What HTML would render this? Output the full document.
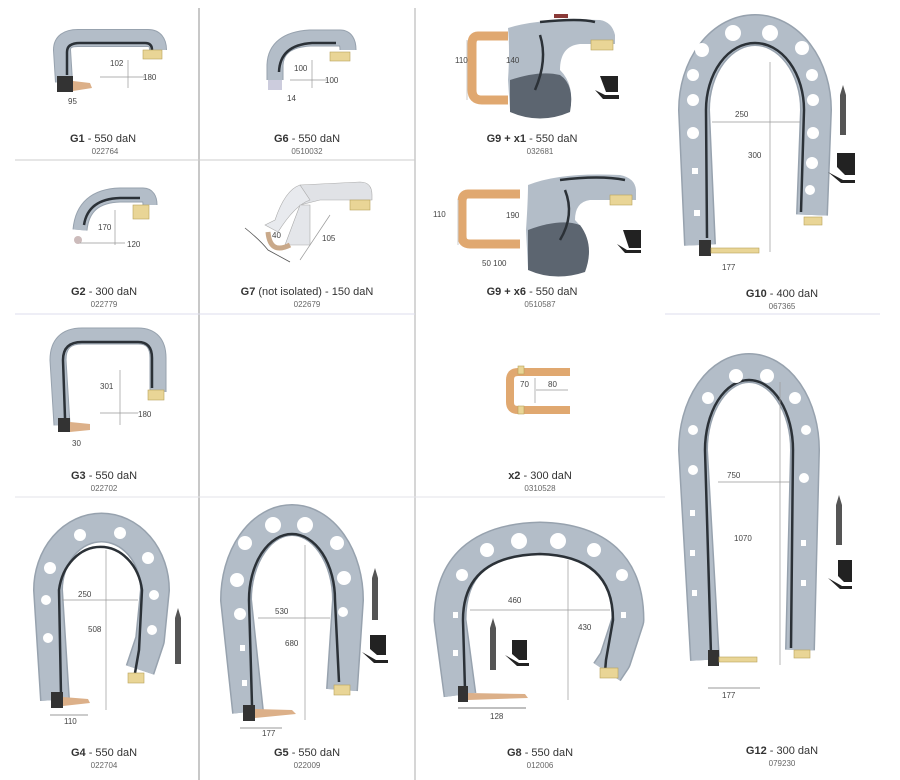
<!DOCTYPE html>
<html><head><meta charset="utf-8"><style>
html,body{margin:0;padding:0;background:#fff;width:900px;height:780px;overflow:hidden}
svg{display:block}
text{font-family:"Liberation Sans",sans-serif;fill:#333}
.t{font-size:11px;text-anchor:middle}
.c{font-size:8px;text-anchor:middle;fill:#666}
.d{font-size:8px;fill:#444}
.arm{fill:none;stroke:#b3bdc8;stroke-linejoin:round}
.edge{fill:none;stroke:#97a2ae;stroke-linejoin:round}
.cab{fill:none;stroke:#2b3137;stroke-width:2.5}
.dim{stroke:#999;stroke-width:0.7}
.h{fill:#fff}
.br{fill:#e9d596;stroke:#b9a25a;stroke-width:.6}
.cu{fill:#dcb089}
</style></head><body>
<svg width="900" height="780" viewBox="0 0 900 780">
<!-- grid -->
<line x1="199" y1="8" x2="199" y2="780" stroke="#777" stroke-width="0.8"/>
<line x1="415" y1="8" x2="415" y2="780" stroke="#999" stroke-width="0.8"/>
<line x1="15" y1="160" x2="415" y2="160" stroke="#ccc"/>
<line x1="15" y1="314" x2="415" y2="314" stroke="#dde"/>
<line x1="665" y1="314" x2="880" y2="314" stroke="#dde"/>
<line x1="15" y1="497" x2="665" y2="497" stroke="#e3e3e8"/>

<!-- G1 -->
<path class="edge" stroke-width="18" d="M64,82 L62,50 Q62,38 78,38 L148,38 Q158,38 158,50"/>
<path class="arm" stroke-width="16" d="M64,82 L62,50 Q62,38 78,38 L148,38 Q158,38 158,50"/>
<path class="cab" d="M67,75 L67,52 Q67,43 80,43 L145,43 Q152,43 152,50"/>
<rect x="57" y="76" width="16" height="16" fill="#333"/>
<polygon class="cu" points="73,81 90,83 92,88 73,91"/>
<rect class="br" x="143" y="50" width="19" height="9"/>
<line class="dim" x1="128" y1="60" x2="128" y2="88"/><line class="dim" x1="100" y1="77" x2="145" y2="77"/>
<text class="d" x="110" y="66">102</text><text class="d" x="143" y="80">180</text><text class="d" x="68" y="104">95</text>
<text class="t" x="103" y="142"><tspan font-weight="bold">G1</tspan> - 550 daN</text><text class="c" x="105" y="154">022764</text>

<!-- G6 -->
<path class="edge" stroke-width="17" d="M275,80 L275,65 Q276,40 310,38 L340,38 Q348,38 348,50"/>
<path class="arm" stroke-width="15" d="M275,80 L275,65 Q276,40 310,38 L340,38 Q348,38 348,50"/>
<path class="cab" d="M279,72 Q280,45 312,43 L336,43"/>
<rect x="268" y="80" width="14" height="10" fill="#ccd"/>
<rect class="br" x="330" y="52" width="20" height="9"/>
<line class="dim" x1="312" y1="60" x2="312" y2="88"/><line class="dim" x1="290" y1="80" x2="327" y2="80"/>
<text class="d" x="294" y="71">100</text><text class="d" x="325" y="83">100</text><text class="d" x="287" y="101">14</text>
<text class="t" x="307" y="142"><tspan font-weight="bold">G6</tspan> - 550 daN</text><text class="c" x="307" y="154">0510032</text>

<!-- G9 + x1 -->
<path d="M508,36 L478,36 Q472,36 472,44 L472,90 Q472,100 482,100 L508,100" fill="none" stroke="#e0a870" stroke-width="9"/>
<path d="M508,28 Q540,18 600,20 Q612,22 615,35 L615,44 L580,44 Q560,46 560,70 Q575,85 570,110 Q540,122 510,110 L508,80 Q510,50 508,28Z" fill="#b3bdc8"/>
<path d="M510,80 Q540,70 560,75 Q575,85 570,112 Q540,125 510,112Z" fill="#5c6570"/>
<path class="cab" d="M540,22 Q580,18 595,22 M540,35 Q548,60 535,90"/>
<rect x="554" y="14" width="14" height="4" fill="#8a3a38"/>
<rect class="br" x="591" y="40" width="22" height="10"/>
<path d="M600,76 h18 v16 h-12 z M595,90 l10,5 h14 v4 h-16z" fill="#222"/>
<line x1="467" y1="40" x2="467" y2="100" stroke="#ccc"/>
<text class="d" x="455" y="63" fill="#7a7">110</text><text class="d" x="506" y="63">140</text>
<text class="t" x="532" y="142"><tspan font-weight="bold">G9 + x1</tspan> - 550 daN</text><text class="c" x="540" y="154">032681</text>

<!-- G10 -->
<path class="edge" stroke-width="32" d="M700,245 L694,110 A61,80 0 0 1 816,110 L812,215"/>
<path class="arm" stroke-width="29" d="M700,245 L694,110 A61,80 0 0 1 816,110 L812,215"/>
<path class="cab" d="M707,238 L706,110 A49,67 0 0 1 804,110 L801,212"/>
<g class="h"><circle cx="702" cy="50" r="7"/><circle cx="733" cy="33" r="8"/><circle cx="770" cy="33" r="8"/><circle cx="802" cy="48" r="7"/><circle cx="693" cy="75" r="6"/><circle cx="693" cy="100" r="6"/><circle cx="693" cy="133" r="6"/><circle cx="812" cy="75" r="6"/><circle cx="813" cy="100" r="6"/><circle cx="813" cy="133" r="6"/><circle cx="812" cy="163" r="6"/><circle cx="810" cy="190" r="5"/><rect x="692" y="168" width="6" height="6"/><rect x="694" y="210" width="6" height="6"/></g>
<rect x="699" y="240" width="12" height="16" fill="#333"/>
<rect class="br" x="711" y="248" width="48" height="5"/>
<rect class="br" x="804" y="217" width="18" height="8"/>
<line class="dim" x1="770" y1="62" x2="770" y2="252"/><line class="dim" x1="712" y1="122" x2="800" y2="122"/>
<text class="d" x="735" y="117">250</text><text class="d" x="748" y="158">300</text><text class="d" x="722" y="270">177</text>
<path d="M840,95 l3,-10 l3,10 v40 h-6z" fill="#555"/>
<path d="M837,153 h18 v22 h-10 l-8,-8z M828,172 l15,8 h12 v3 h-14z" fill="#222"/>
<text class="t" x="782" y="297"><tspan font-weight="bold">G10</tspan> - 400 daN</text><text class="c" x="782" y="309">067365</text>

<!-- G2 -->
<path class="edge" stroke-width="15" d="M80,230 Q83,196 120,195 L143,195 Q150,195 150,205"/>
<path class="arm" stroke-width="13" d="M80,230 Q83,196 120,195 L143,195 Q150,195 150,205"/>
<path class="cab" d="M84,225 Q88,199 120,198 L140,198"/>
<rect class="br" x="133" y="205" width="16" height="14"/>
<circle cx="78" cy="240" r="4" fill="#cbb"/>
<line class="dim" x1="115" y1="210" x2="115" y2="245"/><line class="dim" x1="80" y1="243" x2="125" y2="243"/>
<text class="d" x="98" y="230">170</text><text class="d" x="127" y="247">120</text>
<text class="t" x="104" y="295"><tspan font-weight="bold">G2</tspan> - 300 daN</text><text class="c" x="104" y="307">022779</text>

<!-- G7 -->
<path d="M300,185 L360,182 Q372,182 372,195 L372,200 L320,200 L300,205Z" fill="#e0e2e6" stroke="#aaa" stroke-width=".6"/>
<path d="M300,185 Q285,190 275,220 L265,225 L278,232 Q295,205 310,200Z" fill="#e8eaee" stroke="#aaa" stroke-width=".6"/>
<path d="M300,205 L310,205 L310,245 L285,245Z" fill="#e4e6ea" stroke="#aaa" stroke-width=".6"/>
<path d="M268,232 Q270,255 290,245" fill="none" stroke="#c9a98a" stroke-width="5"/>
<path d="M245,228 Q260,240 268,250 L290,262" fill="none" stroke="#555" stroke-width=".8"/>
<rect class="br" x="350" y="200" width="20" height="10"/>
<line class="dim" x1="300" y1="260" x2="330" y2="215"/>
<text class="d" x="272" y="238">40</text><text class="d" x="322" y="241">105</text>
<text class="t" x="307" y="295"><tspan font-weight="bold">G7</tspan> (not isolated) - 150 daN</text><text class="c" x="307" y="307">022679</text>

<!-- G9 + x6 -->
<path d="M520,194 L468,194 Q462,194 462,202 L462,236 Q462,244 470,244 L520,244" fill="none" stroke="#e0a870" stroke-width="9"/>
<path d="M528,185 Q560,172 620,175 Q635,178 636,190 L636,200 L590,200 Q575,202 575,220 Q595,240 585,270 Q555,280 528,268 L526,230 Q528,200 528,185Z" fill="#b3bdc8"/>
<path d="M528,230 Q560,218 580,225 Q595,245 585,272 Q555,282 528,270Z" fill="#5c6570"/>
<path class="cab" d="M560,180 Q600,175 625,180 M565,190 Q575,215 560,240"/>
<rect class="br" x="610" y="195" width="22" height="10"/>
<path d="M623,230 h18 v18 h-12z M617,244 l10,6 h14 v3 h-16z" fill="#222"/>
<line x1="458" y1="200" x2="458" y2="245" stroke="#ccc"/>
<text class="d" x="433" y="217">110</text><text class="d" x="506" y="218">190</text><text class="d" x="482" y="266">50 100</text>
<text class="t" x="532" y="295"><tspan font-weight="bold">G9 + x6</tspan> - 550 daN</text><text class="c" x="540" y="307">0510587</text>

<!-- G3 -->
<path class="edge" stroke-width="17" d="M62,425 L58,360 Q58,336 82,336 L138,336 Q158,336 158,358 L158,392"/>
<path class="arm" stroke-width="15" d="M62,425 L58,360 Q58,336 82,336 L138,336 Q158,336 158,358 L158,392"/>
<path class="cab" d="M65,418 L63,360 Q63,342 82,342 L138,342 Q152,342 152,358 L152,388"/>
<rect x="58" y="418" width="12" height="14" fill="#333"/><polygon class="cu" points="70,422 90,424 90,430 70,432"/>
<rect class="br" x="148" y="390" width="16" height="10"/>
<line class="dim" x1="120" y1="370" x2="120" y2="425"/><line class="dim" x1="100" y1="413" x2="138" y2="413"/>
<text class="d" x="100" y="389">301</text><text class="d" x="138" y="417">180</text><text class="d" x="72" y="446">30</text>
<text class="t" x="104" y="479"><tspan font-weight="bold">G3</tspan> - 550 daN</text><text class="c" x="104" y="491">022702</text>

<!-- x2 -->
<path d="M570,372 L518,372 Q510,372 510,380 L510,402 Q510,410 518,410 L570,410" fill="none" stroke="#e0a870" stroke-width="8"/>
<rect class="br" x="518" y="366" width="6" height="8"/><rect class="br" x="518" y="406" width="6" height="8"/>
<line class="dim" x1="535" y1="378" x2="535" y2="403"/><line class="dim" x1="536" y1="390" x2="568" y2="390"/>
<text class="d" x="520" y="387">70</text><text class="d" x="548" y="387">80</text>
<text class="t" x="540" y="479"><tspan font-weight="bold">x2</tspan> - 300 daN</text><text class="c" x="540" y="491">0310528</text>

<!-- G12 -->
<path class="edge" stroke-width="30" d="M705,660 L693,450 A56,82 0 0 1 805,450 L800,650"/>
<path class="arm" stroke-width="27" d="M705,660 L693,450 A56,82 0 0 1 805,450 L800,650"/>
<path class="cab" d="M711,655 L705,450 A44,70 0 0 1 793,450 L791,648"/>
<g class="h"><circle cx="736" cy="376" r="7"/><circle cx="767" cy="376" r="7"/><circle cx="708" cy="398" r="6"/><circle cx="795" cy="398" r="6"/><circle cx="693" cy="430" r="5"/><circle cx="806" cy="430" r="5"/><circle cx="693" cy="470" r="5"/><circle cx="804" cy="478" r="5"/><rect x="690" y="510" width="5" height="6"/><rect x="690" y="550" width="5" height="6"/><rect x="692" y="590" width="5" height="6"/><rect x="801" y="540" width="5" height="6"/><rect x="801" y="580" width="5" height="6"/></g>
<rect x="708" y="650" width="11" height="16" fill="#333"/>
<rect class="br" x="719" y="657" width="38" height="5"/>
<rect class="br" x="794" y="650" width="16" height="8"/>
<line class="dim" x1="780" y1="382" x2="780" y2="665"/><line class="dim" x1="718" y1="482" x2="790" y2="482"/>
<line x1="708" y1="688" x2="760" y2="688" stroke="#777" stroke-width=".7"/>
<text class="d" x="727" y="478">750</text><text class="d" x="734" y="541">1070</text><text class="d" x="722" y="698" fill="#a33">177</text>
<path d="M836,505 l3,-10 l3,10 v40 h-6z" fill="#555"/>
<path d="M838,560 h14 v22 h-8 l-6,-6z M828,578 l14,8 h10 v3 h-12z" fill="#222"/>
<text class="t" x="782" y="754"><tspan font-weight="bold">G12</tspan> - 300 daN</text><text class="c" x="782" y="766">079230</text>

<!-- G4 -->
<path class="edge" stroke-width="30" d="M55,700 L48,590 A53,62 0 0 1 155,590 L150,640 L140,670"/>
<path class="arm" stroke-width="27" d="M55,700 L48,590 A53,62 0 0 1 155,590 L150,640 L140,670"/>
<path class="cab" d="M61,695 L59,590 A42,51 0 0 1 142,590 L139,650 L135,673"/>
<g class="h"><circle cx="50" cy="568" r="6"/><circle cx="80" cy="535" r="6"/><circle cx="120" cy="533" r="6"/><circle cx="148" cy="558" r="6"/><circle cx="46" cy="600" r="5"/><circle cx="154" cy="595" r="5"/><circle cx="48" cy="638" r="5"/><circle cx="152" cy="630" r="5"/></g>
<rect x="51" y="692" width="12" height="16" fill="#333"/>
<polygon class="cu" points="63,697 88,699 90,703 63,706"/>
<rect class="br" x="128" y="673" width="16" height="10"/>
<line class="dim" x1="106" y1="550" x2="106" y2="710"/><line class="dim" x1="62" y1="600" x2="138" y2="600"/>
<line x1="50" y1="715" x2="88" y2="715" stroke="#777" stroke-width=".7"/>
<text class="d" x="78" y="597">250</text><text class="d" x="88" y="632">508</text><text class="d" x="64" y="724" fill="#a33">110</text>
<path d="M175,618 l3,-10 l3,10 v46 h-6z" fill="#555"/>
<text class="t" x="104" y="756"><tspan font-weight="bold">G4</tspan> - 550 daN</text><text class="c" x="104" y="768">022704</text>

<!-- G5 -->
<path class="edge" stroke-width="32" d="M248,712 L236,600 A56,80 0 0 1 348,600 L342,690"/>
<path class="arm" stroke-width="29" d="M248,712 L236,600 A56,80 0 0 1 348,600 L342,690"/>
<path class="cab" d="M252,705 L249,600 A43,66 0 0 1 335,600 L339,682"/>
<g class="h"><circle cx="273" cy="525" r="8"/><circle cx="305" cy="525" r="8"/><circle cx="245" cy="543" r="7"/><circle cx="337" cy="543" r="7"/><circle cx="237" cy="580" r="7"/><circle cx="344" cy="578" r="7"/><circle cx="240" cy="614" r="6"/><circle cx="343" cy="612" r="5"/><rect x="240" y="645" width="5" height="6"/><rect x="242" y="680" width="5" height="6"/></g>
<rect x="243" y="705" width="12" height="16" fill="#333"/>
<polygon class="cu" points="255,709 292,710 296,714 255,718"/>
<rect class="br" x="334" y="685" width="16" height="10"/>
<line class="dim" x1="305" y1="545" x2="305" y2="720"/><line class="dim" x1="258" y1="618" x2="330" y2="618"/>
<line x1="240" y1="728" x2="282" y2="728" stroke="#777" stroke-width=".7"/>
<text class="d" x="275" y="614">530</text><text class="d" x="285" y="646">680</text><text class="d" x="262" y="736" fill="#a33">177</text>
<path d="M372,578 l3,-10 l3,10 v42 h-6z" fill="#555"/>
<path d="M370,635 h16 v20 h-9 l-7,-6z M362,652 l14,8 h12 v3 h-14z" fill="#222"/>
<text class="t" x="307" y="756"><tspan font-weight="bold">G5</tspan> - 550 daN</text><text class="c" x="307" y="768">022009</text>

<!-- G8 -->
<path class="edge" stroke-width="33" d="M460,695 L450,620 Q450,540 540,538 Q628,540 628,620 L615,660 L607,672"/>
<path class="arm" stroke-width="30" d="M460,695 L450,620 Q450,540 540,538 Q628,540 628,620 L615,660 L607,672"/>
<path class="cab" d="M465,690 L463,620 Q463,556 540,554 Q613,556 613,620 L606,660 L605,672"/>
<g class="h"><circle cx="487" cy="550" r="7"/><circle cx="519" cy="541" r="8"/><circle cx="558" cy="541" r="8"/><circle cx="594" cy="550" r="7"/><circle cx="462" cy="575" r="6"/><circle cx="622" cy="575" r="6"/><rect x="453" y="612" width="5" height="6"/><rect x="621" y="612" width="5" height="6"/><rect x="453" y="650" width="5" height="6"/></g>
<rect x="458" y="686" width="10" height="16" fill="#333"/>
<polygon class="cu" points="468,693 525,694 528,698 468,700"/>
<rect class="br" x="600" y="668" width="18" height="10"/>
<line class="dim" x1="568" y1="560" x2="568" y2="700"/><line class="dim" x1="470" y1="610" x2="610" y2="610"/>
<line x1="458" y1="708" x2="526" y2="708" stroke="#555" stroke-width=".7"/>
<text class="d" x="508" y="603">460</text><text class="d" x="578" y="630">430</text><text class="d" x="490" y="719" fill="#a33">128</text>
<path d="M490,628 l3,-10 l3,10 v42 h-6z" fill="#555"/>
<path d="M512,640 h15 v20 h-8 l-7,-6z M505,655 l14,8 h10 v3 h-12z" fill="#222"/>
<text class="t" x="540" y="756"><tspan font-weight="bold">G8</tspan> - 550 daN</text><text class="c" x="540" y="768">012006</text>
</svg>
</body></html>
